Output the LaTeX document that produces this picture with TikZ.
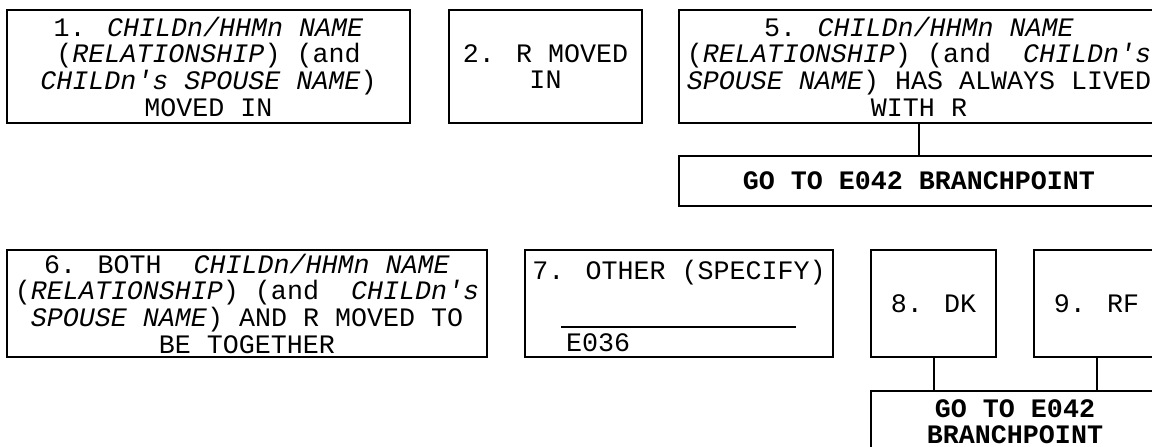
\documentclass[tikz,border=0pt]{standalone}
\usepackage{fontspec}
\setmainfont{Liberation Mono}
\newcommand{\apos}{\textquotesingle}
\tikzset{
    answer/.style={draw, line width=2pt, align=center, inner sep=0pt, font=\fontsize{26.67}{26.67}\selectfont},
    goto/.style={answer, font=\fontsize{26.67}{26}\selectfont\bfseries},
    plain/.style={inner sep=0pt, font=\fontsize{26.67}{26.67}\selectfont}
}
\begin{document}
\begin{tikzpicture}[x=1pt, y=-1pt]
    \useasboundingbox[fill=white] (0,0) rectangle (1152,447);
    \clip (0,0) rectangle (1152,447);
    % top row
    \node[answer, minimum width=403pt, minimum height=113pt] (1) at (208.5, 66.5) {1. \textit{CHILDn/HHMn NAME}\\(\textit{RELATIONSHIP}) (and\\\textit{CHILDn\apos s SPOUSE NAME})\\MOVED IN};
    \node[answer, minimum width=193pt, minimum height=113pt] (2) at (545.5, 66.5) {2. R MOVED\\IN};
    \node[answer, minimum width=480pt, minimum height=113pt] (5) at (919, 66.5) {5. \textit{CHILDn/HHMn NAME}\\(\textit{RELATIONSHIP}) (and~ \textit{CHILDn\apos s}\\\textit{SPOUSE NAME}) HAS ALWAYS LIVED\\WITH R};
    \node[goto, minimum width=480pt, minimum height=50pt] (go5) at (919, 181) {GO TO E042 BRANCHPOINT};
    \draw[line width=2pt] (5) -- (go5);
    % bottom row
    \node[answer, minimum width=480pt, minimum height=107pt] (6) at (247, 303.5) {6. BOTH~ \textit{CHILDn/HHMn NAME}\\(\textit{RELATIONSHIP}) (and~ \textit{CHILDn\apos s}\\\textit{SPOUSE NAME}) AND R MOVED TO\\BE TOGETHER};
    \node[answer, minimum width=308pt, minimum height=107pt] (7) at (679, 303.5) {};
    \node[plain] (7a) at (679, 273) {7. OTHER (SPECIFY)};
    \draw[line width=2pt] (561, 327) -- (796, 327);
    \node[plain, anchor=west] (7b) at (566, 343) {E036};
    \node[answer, minimum width=125pt, minimum height=107pt] (8) at (933.5, 303.5) {8. DK};
    \node[answer, minimum width=125pt, minimum height=107pt] (9) at (1096.5, 303.5) {9. RF};
    \node[goto, minimum width=288pt, minimum height=62pt] (go89) at (1015, 422) {GO TO E042\\BRANCHPOINT};
    \draw[line width=2pt] (8.south) -- (8.south |- go89.north);
    \draw[line width=2pt] (9.south) -- (9.south |- go89.north);
\end{tikzpicture}
\end{document}
